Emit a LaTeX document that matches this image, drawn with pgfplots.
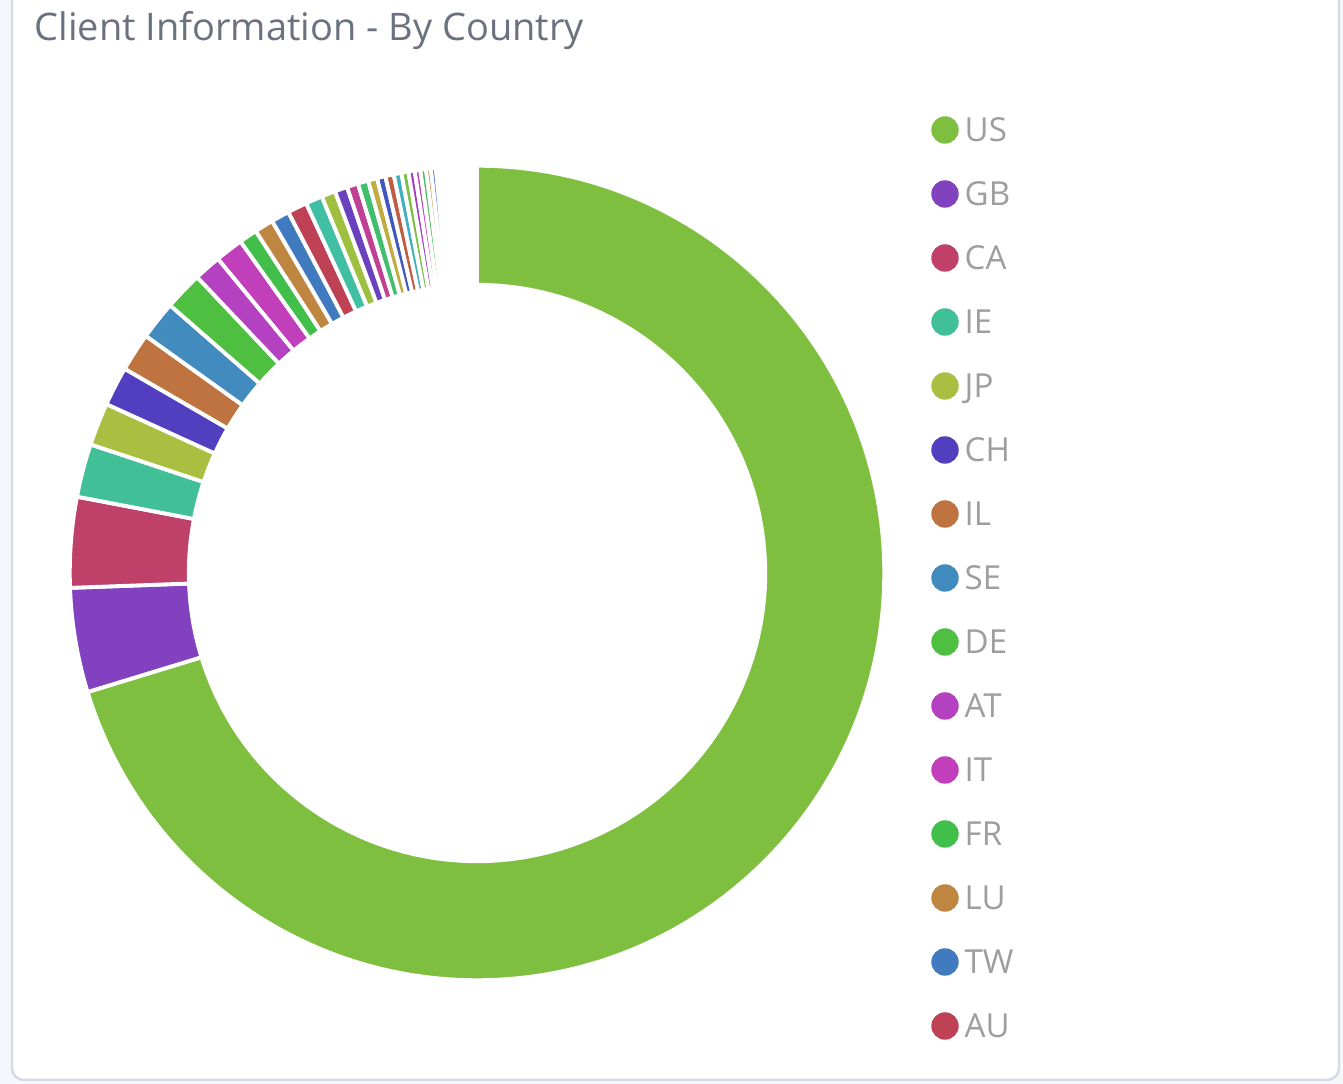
\documentclass[border=0pt]{standalone}
\usepackage{fontspec}
\setmainfont{Open Sans}
\usepackage{pgfplots}
\usepackage{pgfplotstable}
\pgfplotsset{compat=1.18}

\definecolor{s0}{HTML}{7FBF3F}
\definecolor{s1}{HTML}{8241BF}
\definecolor{s2}{HTML}{BF416A}
\definecolor{s3}{HTML}{41BF97}
\definecolor{s4}{HTML}{AABF41}
\definecolor{s5}{HTML}{523FBF}
\definecolor{s6}{HTML}{BF7341}
\definecolor{s7}{HTML}{418BBF}
\definecolor{s8}{HTML}{4FBF41}
\definecolor{s9}{HTML}{B441BF}
\definecolor{s10}{HTML}{C23FBC}
\definecolor{s11}{HTML}{41BF4A}
\definecolor{s12}{HTML}{BF8641}
\definecolor{s13}{HTML}{417BBF}
\definecolor{s14}{HTML}{BF4156}
\definecolor{s15}{HTML}{41BFA3}
\definecolor{s16}{HTML}{9FBF41}
\definecolor{s17}{HTML}{6A41BF}
\definecolor{s18}{HTML}{BF4195}
\definecolor{s19}{HTML}{41BF6F}
\definecolor{s20}{HTML}{BFAD41}
\definecolor{s21}{HTML}{4156BF}
\definecolor{s22}{HTML}{BF5C41}
\definecolor{s23}{HTML}{41B0BF}
\definecolor{s24}{HTML}{79BF41}
\definecolor{s25}{HTML}{A041BF}
\definecolor{s26}{HTML}{BF41B8}
\definecolor{s27}{HTML}{41BF58}
\definecolor{s28}{HTML}{BF9441}
\definecolor{s29}{HTML}{4174BF}
\definecolor{s30}{HTML}{BF4170}
\definecolor{titlegray}{HTML}{6B717F}
\definecolor{legendgray}{HTML}{9E9E9E}
\definecolor{cardborder}{HTML}{D5DAE4}
\definecolor{pagebg}{HTML}{F6F7FA}

% share of each country, in degrees of the ring
\pgfplotstableread{
label value
US 253.0
GB 14.9
CA 12.9
IE 7.6
JP 6.1
CH 5.6
IL 5.5
SE 5.5
DE 5.5
AT 3.9
IT 4.0
FR 2.6
LU 2.7
TW 2.6
AU 2.8
o16 2.4
o17 2.0
o18 1.8
o19 1.6
o20 1.5
o21 1.3
o22 1.2
o23 1.2
o24 1.1
o25 1.0
o26 0.9
o27 0.8
o28 0.8
o29 0.7
o30 0.7
o31 0.2
o32 0.2
o33 0.2
o34 0.2
o35 0.2
o36 0.2
o37 0.2
o38 0.2
o39 0.2
o40 0.2
o41 0.2
o42 0.2
o43 0.2
o44 0.2
o45 0.2
o46 0.2
o47 0.2
o48 0.2
o49 0.2
o50 0.2
o51 0.2
o52 0.2
o53 0.2
o54 0.2
o55 0.2
o56 0.2
o57 0.2
o58 0.2
o59 0.2
}\slices

\begin{document}
\begin{tikzpicture}
\begin{axis}[x=0.01cm, y=0.01cm, xmin=0, xmax=1343, ymin=0, ymax=1084,
  hide axis, scale only axis, clip=false]
\pgfplotsextra{
  % background and card
  \fill[pagebg] (axis cs:0,0) rectangle (axis cs:1343,1084);
  \draw[cardborder, fill=white, line width=0.7pt, rounded corners=0.12cm]
     (axis cs:12,4) rectangle (axis cs:1339,1130);
  % title
  \node[anchor=base west, inner sep=0, text=titlegray,
        font=\fontsize{10.8}{13}\selectfont] at (axis cs:34,1043)
        {Client Information - By Country};
  % totals
  \pgfplotstablegetrowsof{\slices}
  \pgfmathtruncatemacro\nrows{\pgfplotsretval-1}
  \def\total{0}
  \pgfplotsforeachungrouped \i in {0,...,\nrows}{%
    \pgfplotstablegetelem{\i}{value}\of\slices
    \pgfmathsetmacro\total{\total+\pgfplotsretval}%
  }
  \def\cum{90}
  \begin{scope}[shift={(axis cs:477,511)}]
  \pgfplotsforeachungrouped \i in {0,...,\nrows}{%
    \pgfplotstablegetelem{\i}{value}\of\slices
    \pgfmathsetmacro\aend{\cum-\pgfplotsretval/\total*360}%
    \pgfmathtruncatemacro\ci{min(\i,30)}%
    \fill[fill=s\ci, draw=white, line width=1.1pt]
      (\cum:2.88cm) -- (\cum:4.07cm)
      arc[start angle=\cum, end angle=\aend, radius=4.07cm]
      -- (\aend:2.88cm)
      arc[start angle=\aend, end angle=\cum, radius=2.88cm] -- cycle;
    \let\cum\aend
  }
  \end{scope}
  % legend
  \pgfplotsforeachungrouped \i in {0,...,14}{%
    \pgfplotstablegetelem{\i}{label}\of\slices
    \let\lab\pgfplotsretval
    \pgfmathsetmacro\ly{1084-130-64*\i}%
    \pgfmathsetmacro\lyb{\ly-11.5}%
    \fill[fill=s\i] (axis cs:945,\ly) circle[radius=0.137cm];
    \node[anchor=base west, inner sep=0, text=legendgray,
          font=\fontsize{9.4}{11}\selectfont] at (axis cs:964,\lyb) {\lab};
  }
}
\end{axis}
\pgfresetboundingbox
\useasboundingbox (current axis.south west) rectangle (current axis.north east);
\end{tikzpicture}
\end{document}
